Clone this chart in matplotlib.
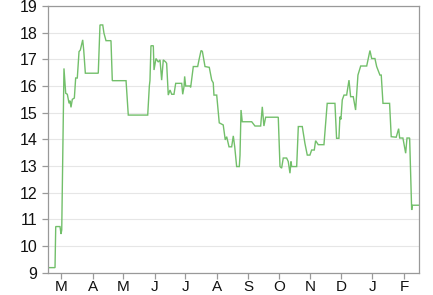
import matplotlib
matplotlib.use("Agg")
import matplotlib.pyplot as plt
import matplotlib.dates as mdates
import pandas as pd

# Data: day offsets from 2014-03-01 and values
start_date = "2014-03-01"
days = [-12.5, -5.9, -5.2, -1.0, 0.0, 0.7, 2.9, 4.6, 6.2, 7.9, 8.8, 9.8, 11.1, 13.1,
        14.4, 16.0, 17.7, 19.0, 21.3, 22.3, 23.9, 36.6, 38.3, 41.0, 42.2, 44.2, 49.1,
        50.4, 63.9, 66.1, 85.2, 86.8, 87.4, 88.4, 90.7, 91.4, 93.3, 95.6, 97.3, 98.9,
        100.5, 102.9, 103.8, 105.4, 107.1, 108.8, 111.0, 112.7, 118.6, 119.6, 120.9,
        121.5, 122.5, 126.7, 127.4, 130.0, 134.3, 135.6, 137.6, 138.9, 141.5, 145.7,
        148.1, 149.6, 150.3, 153.0, 155.5, 159.4, 161.4, 162.8, 165.1, 167.7, 169.3,
        170.7, 172.6, 175.2, 175.9, 176.9, 178.1, 187.4, 190.6, 196.2, 197.8, 199.4,
        201.1, 213.5, 215.2, 216.8, 218.4, 221.7, 223.3, 225.0, 226.0, 226.7, 231.6,
        233.2, 237.1, 239.7, 242.0, 244.6, 246.3, 248.9, 250.2, 252.8, 258.4, 260.0,
        261.6, 269.2, 270.8, 273.1, 274.1, 275.1, 276.4, 278.1, 280.7, 283.0, 284.6,
        287.2, 289.5, 291.8, 294.5, 300.4, 303.6, 305.3, 308.5, 310.2, 313.4, 314.7,
        316.4, 322.9, 324.5, 329.4, 331.8, 332.8, 336.0, 338.7, 340.0, 342.6, 344.6,
        345.2, 352.1]
values = [9.19, 9.19, 10.73, 10.73, 10.45, 10.6, 16.66, 15.73, 15.69, 15.35, 15.45, 15.2,
          15.5, 15.55, 16.3, 16.3, 17.29, 17.35, 17.73, 17.35, 16.48, 16.48, 18.29, 18.29,
          17.98, 17.7, 17.7, 16.2, 16.2, 14.91, 14.91, 16.0, 16.2, 17.51, 17.51, 16.6,
          17.03, 16.9, 16.98, 16.22, 16.98, 16.9, 16.85, 15.66, 15.85, 15.69, 15.69, 16.1,
          16.1, 15.69, 15.98, 16.36, 16.0, 16.0, 15.95, 16.73, 16.73, 16.98, 17.33, 17.3,
          16.73, 16.7, 16.22, 16.12, 15.66, 15.66, 14.62, 14.54, 13.98, 14.1, 13.72, 13.72,
          14.13, 13.72, 12.98, 12.98, 13.4, 15.1, 14.66, 14.66, 14.5, 14.5, 15.22, 14.5,
          14.83, 14.83, 12.98, 12.92, 13.3, 13.3, 13.17, 12.73, 13.17, 12.98, 12.98, 14.48,
          14.48, 13.85, 13.41, 13.41, 13.6, 13.6, 13.95, 13.8, 13.8, 14.6, 15.35, 15.35,
          14.04, 14.04, 14.85, 14.75, 15.48, 15.66, 15.66, 16.22, 15.6, 15.6, 15.1, 16.41,
          16.75, 16.75, 17.33, 17.03, 17.03, 16.73, 16.41, 16.41, 15.35, 15.35, 14.1, 14.08,
          14.4, 14.05, 14.05, 13.48, 14.05, 14.05, 11.35, 11.53, 11.53]
y_ticks = [9, 10, 11, 12, 13, 14, 15, 16, 17, 18, 19]

dates = pd.Timestamp(start_date) + pd.to_timedelta(days, unit="D")

plt.rcParams["font.family"] = ["Liberation Sans", "DejaVu Sans"]
fig = plt.figure(figsize=(4.33, 2.95), dpi=100)
ax = fig.add_axes([48.3 / 433, 1 - 272.7 / 295, (419.3 - 48.3) / 433, (272.7 - 6) / 295])

ax.plot(dates, values, color="#72bf6a", linewidth=1.0, solid_joinstyle="miter")

ax.set_xlim(dates[0], dates[-1])
ax.set_ylim(9, 19)
ax.set_yticks(y_ticks)
ax.yaxis.grid(True, color="#e6e6e6", linewidth=0.8)
ax.set_axisbelow(True)

ax.xaxis.set_major_locator(mdates.MonthLocator())
ax.xaxis.set_major_formatter(plt.FuncFormatter(lambda x, pos: mdates.num2date(x).strftime("%b")[0]))

for s in ax.spines.values():
    s.set_color("#999999")
    s.set_linewidth(0.9)

ax.tick_params(axis="y", length=4, color="#999999", width=0.9, pad=4, labelsize=11.5,
               labelcolor="#111111")
ax.tick_params(axis="x", length=4, color="#999999", width=0.9, pad=1.5, labelsize=11,
               labelcolor="#111111")

fig.savefig("out.png", dpi=100)
